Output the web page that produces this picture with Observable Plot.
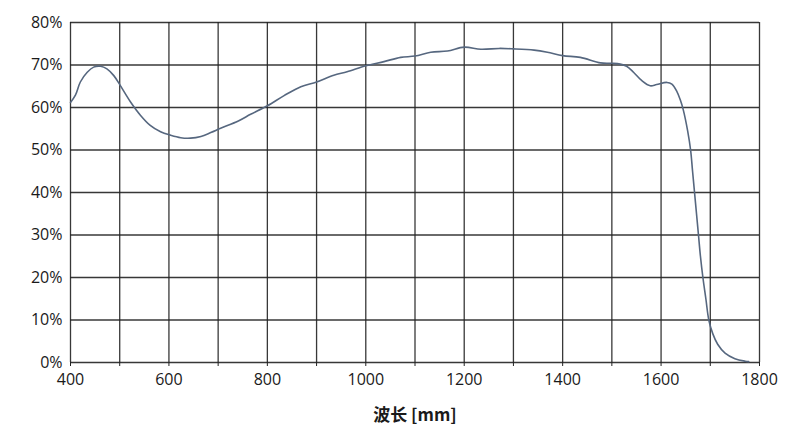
<!DOCTYPE html>
<html>
<head>
<meta charset="utf-8">
<script src="https://cdn.jsdelivr.net/npm/d3@7"></script>
<script src="https://cdn.jsdelivr.net/npm/@observablehq/plot@0.6"></script>
<style>
  html, body { margin: 0; padding: 0; background: #fff; }
  #chart { width: 800px; height: 432px; }
</style>
</head>
<body>
<div id="chart"></div>
<script>
const wavelength = [400,410,420,434,447,461,474,488,501,522,542,562,583,603,624,644,665,685,705,742,766,800,834,868,900,935,962,1000,1037,1071,1100,1132,1166,1200,1234,1271,1300,1342,1369,1400,1436,1477,1500,1517,1530,1544,1561,1578,1591,1612,1622,1632,1639,1645,1654,1660,1664,1668,1672,1676,1680,1685,1691,1697,1705,1715,1730,1750,1771,1778];
const transmittance = [61.2,62.9,66.0,68.3,69.5,69.7,69.1,67.5,65.2,61.3,58.2,55.8,54.3,53.5,52.9,52.8,53.2,54.1,55.1,56.9,58.4,60.4,62.8,64.9,66.0,67.6,68.4,69.8,70.8,71.8,72.1,73.0,73.3,74.2,73.7,73.9,73.8,73.5,73.0,72.2,71.8,70.5,70.4,70.2,69.7,68.3,66.3,65.1,65.4,65.9,65.5,63.8,61.8,59.5,54.5,50.0,45.0,40.0,35.0,30.0,25.0,20.0,15.0,10.0,6.8,4.3,2.2,0.9,0.3,0.2];
const xTicks = [400,500,600,700,800,900,1000,1100,1200,1300,1400,1500,1600,1700,1800];
const yTicks = [0,10,20,30,40,50,60,70,80];
const xLabel = "波长 [mm]";

const data = wavelength.map((w, i) => ({w, t: transmittance[i]}));

const chart = Plot.plot({
  width: 800,
  height: 432,
  marginLeft: 70,
  marginRight: 41,
  marginTop: 22,
  marginBottom: 70,
  style: {fontFamily: "'Open Sans', sans-serif", fontSize: "16px", color: "#1a1a1a", background: "#fff"},
  x: {domain: [400, 1800]},
  y: {domain: [0, 80]},
  marks: [
    Plot.gridX(xTicks, {stroke: "#222", strokeOpacity: 0.9, strokeWidth: 1.3}),
    Plot.gridY(yTicks, {stroke: "#222", strokeOpacity: 0.9, strokeWidth: 1.3}),
    Plot.axisX(xTicks, {tickSize: 4, tickPadding: 7, tickFormat: d => d % 200 === 0 ? String(d) : "", label: null, stroke: "#222"}),
    Plot.axisX({ticks: [], tickSize: 0, label: xLabel, labelAnchor: "center", labelOffset: 58, labelArrow: "none", fontSize: 17, fontWeight: "bold", fontFamily: "'Noto Sans CJK SC', 'Open Sans', sans-serif"}),
    Plot.axisY(yTicks, {tickSize: 0, tickPadding: 8, tickFormat: d => d + "%", label: null}),
    Plot.line(data, {x: "w", y: "t", stroke: "#56677f", strokeWidth: 1.6, curve: "catmull-rom"})
  ]
});
document.getElementById("chart").appendChild(chart);
</script>
</body>
</html>
